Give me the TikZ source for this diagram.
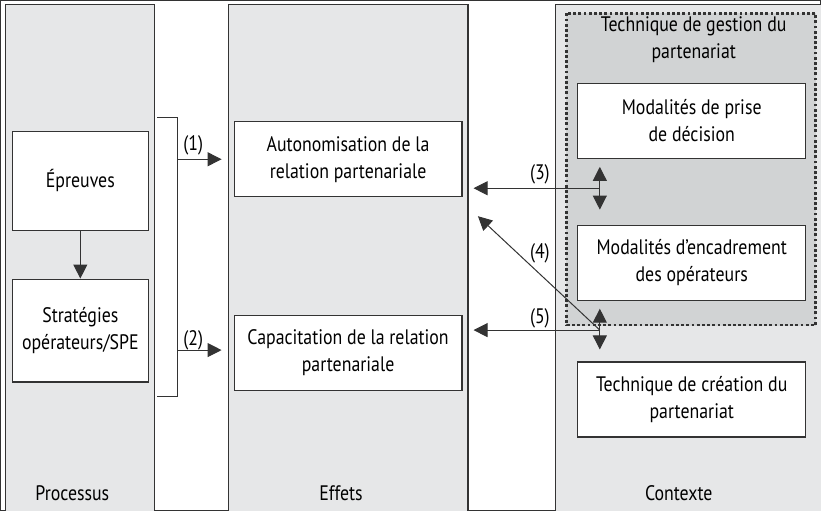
\documentclass[tikz,border=0pt]{standalone}
\usepackage{fontspec}
\setmainfont[FakeStretch=0.85]{PT Sans}
\usetikzlibrary{arrows.meta}

\definecolor{colgray}{HTML}{E6E7E8}
\definecolor{zonegray}{HTML}{D1D3D4}
\definecolor{linegray}{HTML}{333333}

\begin{document}
\begin{tikzpicture}[x=0.5pt,y=-0.5pt,
    font=\fontsize{10.5}{13.5}\selectfont,
    every path/.style={draw=linegray},
    box/.style={draw=linegray, fill=white, line width=0.6pt, align=center,
        inner sep=0pt, minimum width=114pt, minimum height=37.5pt},
    smallbox/.style={box, minimum width=68pt},
    fleche/.style={-{Triangle[length=7pt,width=7pt]}, line width=0.5pt},
    bifleche/.style={{Triangle[length=7pt,width=7pt]}-{Triangle[length=7pt,width=7pt]}, line width=0.5pt},
    num/.style={inner sep=0pt}]
        \useasboundingbox (0,0) rectangle (821,510);
        % les trois colonnes
        \fill[colgray] (5,4) rectangle (154,520);
        \fill[colgray] (228,4) rectangle (468,520);
        \fill[colgray] (556,4) rectangle (830,520);
        \draw[line width=0.6pt] (5,520) |- (154,4) -- (154,520);
        \draw[line width=0.6pt] (228,520) |- (468,4) -- (468,520);
        \draw[line width=0.6pt] (556,520) |- (830,4);

        % zone en pointilles
        \fill[zonegray] (567,13) rectangle (816,325);
        \draw[dash pattern=on 1.4pt off 1.2pt, line width=1.4pt] (567,13) rectangle (816,325);

        \node (procTitle) at (72,493) {Processus};
        \node (effTitle) at (341,493) {Effets};
        \node (ctxTitle) at (679,493) {Contexte};
        \node[align=center] (gestTitle) at (694,39) {Technique de gestion du\\partenariat};

        % boites
        \node[smallbox, minimum height=49.5pt] (epreuves) at (80,180.5) {Épreuves};
        \node[smallbox, minimum height=51.5pt] (strat) at (80,330.5) {Stratégies\\opérateurs/SPE};
        \node[box] (auto) at (348,159) {Autonomisation de la\\relation partenariale};
        \node[box] (capa) at (348,353) {Capacitation de la relation\\partenariale};
        \node[box] (prise) at (692,120.5) {Modalités de prise\\de décision};
        \node[box] (encadr) at (692,262.5) {Modalités d’encadrement\\des opérateurs};
        \node[box] (creation) at (692,399.5) {Technique de création du\\partenariat};

        \draw[fleche] (epreuves) -- (strat);

        % accolade vers les effets
        \coordinate (brTop) at (157,117);
        \coordinate (brBot) at (157,396);
        \draw[line width=0.5pt] (brTop) -| (177,396) -- (brBot);
        \coordinate (b1) at (177,159);
        \coordinate (b2) at (177,350);
        \draw[fleche, shorten >=6pt] (b1) -- (b1 -| auto.west);
        \draw[fleche, shorten >=6pt] (b2) -- (b2 -| capa.west);
        \node[num] (n1) at (193,145) {(1)};
        \node[num] (n2) at (193,340) {(2)};

        % liens avec le contexte
        \coordinate (j3) at (600,188);
        \coordinate (j5) at (600,330);
        \coordinate (e4) at (478,216);
        \draw[bifleche] ([yshift=-4pt]prise.south -| j3) -- ([yshift=7.5pt]encadr.north -| j3);
        \draw[bifleche] ([yshift=-4pt]encadr.south -| j5) -- ([yshift=6pt]creation.north -| j5);
        \draw[fleche, shorten >=5.5pt] (j3) -- (j3 -| auto.east);
        \draw[fleche, shorten >=5.5pt] (j5) -- (j5 -| capa.east);
        \draw[fleche] (j5) -- (e4);
        \node[num] (n3) at (540,174) {(3)};
        \node[num] (n4) at (540,253) {(4)};
        \node[num] (n5) at (540,318) {(5)};
    \end{tikzpicture}
\end{document}
